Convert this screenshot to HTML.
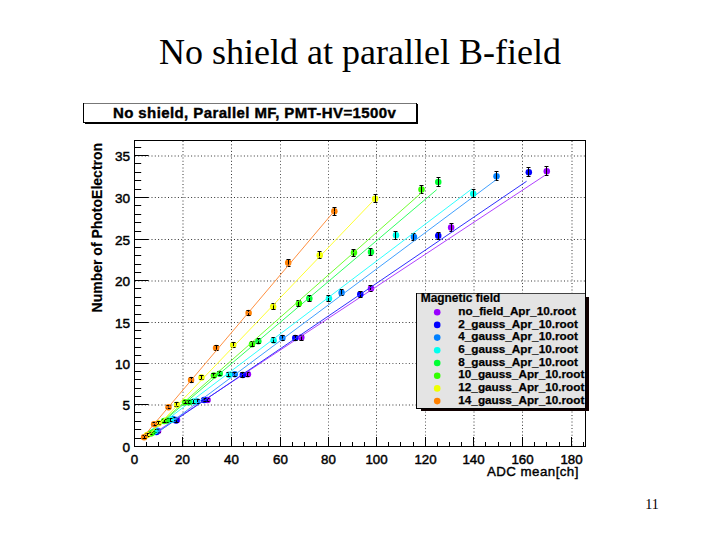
<!DOCTYPE html>
<html><head><meta charset="utf-8"><style>
html,body{margin:0;padding:0;background:#fff;width:720px;height:540px;overflow:hidden}
svg{display:block}
</style></head><body>
<svg width="720" height="540" viewBox="0 0 720 540">
<text x="360" y="64.2" text-anchor="middle" font-family="Liberation Serif, serif" font-size="36" fill="#000">No shield at parallel B-field</text>
<text x="652" y="508.6" text-anchor="middle" font-family="Liberation Serif, serif" font-size="14" fill="#000">11</text>
<rect x="85" y="104" width="333" height="20" fill="#000"/>
<rect x="83.5" y="103.5" width="333" height="19" fill="#fff" stroke="#000" stroke-width="1"/>
<path d="M84 103.5H416" stroke="#777" stroke-width="1"/>
<text x="113" y="117.8" font-family="Liberation Sans, sans-serif" font-size="15" font-weight="bold" letter-spacing="0.4" fill="#000" stroke="#000" stroke-width="0.4">No shield, Parallel MF, PMT-HV=1500v</text>
<path d="M183 141V446" stroke="#9a9a9a" stroke-width="2" stroke-dasharray="1 2.3" fill="none"/>
<path d="M231.5 141V446" stroke="#333" stroke-width="1" stroke-dasharray="1 2.3" fill="none"/>
<path d="M280.5 141V446" stroke="#555" stroke-width="1" stroke-dasharray="1 2.3" fill="none"/>
<path d="M328.5 141V446" stroke="#555" stroke-width="1" stroke-dasharray="1 2.3" fill="none"/>
<path d="M376.5 141V446" stroke="#333" stroke-width="1" stroke-dasharray="1 2.3" fill="none"/>
<path d="M425.5 141V446" stroke="#555" stroke-width="1" stroke-dasharray="1 2.3" fill="none"/>
<path d="M474 141V446" stroke="#9a9a9a" stroke-width="2" stroke-dasharray="1 2.3" fill="none"/>
<path d="M522.5 141V446" stroke="#333" stroke-width="1" stroke-dasharray="1 2.3" fill="none"/>
<path d="M572 141V446" stroke="#9a9a9a" stroke-width="2" stroke-dasharray="1 2.3" fill="none"/>
<path d="M135 405H585" stroke="#9a9a9a" stroke-width="2" stroke-dasharray="1 2.3" fill="none"/>
<path d="M135 363.5H585" stroke="#555" stroke-width="1" stroke-dasharray="1 2.3" fill="none"/>
<path d="M135 322.5H585" stroke="#333" stroke-width="1" stroke-dasharray="1 2.3" fill="none"/>
<path d="M135 281H585" stroke="#9a9a9a" stroke-width="2" stroke-dasharray="1 2.3" fill="none"/>
<path d="M135 239.5H585" stroke="#333" stroke-width="1" stroke-dasharray="1 2.3" fill="none"/>
<path d="M135 197.5H585" stroke="#333" stroke-width="1" stroke-dasharray="1 2.3" fill="none"/>
<path d="M135 156H585" stroke="#9a9a9a" stroke-width="2" stroke-dasharray="1 2.3" fill="none"/>
<circle cx="158.05" cy="431.12" r="3.25" fill="#9900ff"/>
<path d="M158.5 429.5V432.5M156.5 429.5h4M156.5 432.5h4" stroke="#000" stroke-width="1" fill="none"/>
<circle cx="176.99" cy="419.98" r="3.25" fill="#9900ff"/>
<path d="M176.5 418.5V421.5M174.5 418.5h4M174.5 421.5h4" stroke="#000" stroke-width="1" fill="none"/>
<circle cx="207.58" cy="400.02" r="3.25" fill="#9900ff"/>
<path d="M207.5 398.5V401.5M205.5 398.5h4M205.5 401.5h4" stroke="#000" stroke-width="1" fill="none"/>
<circle cx="247.89" cy="374.17" r="3.25" fill="#9900ff"/>
<path d="M247.5 372.5V376.5M245.5 372.5h4M245.5 376.5h4" stroke="#000" stroke-width="1" fill="none"/>
<circle cx="301.30" cy="337.59" r="3.25" fill="#9900ff"/>
<path d="M301.5 335.5V340.5M299.5 335.5h4M299.5 340.5h4" stroke="#000" stroke-width="1" fill="none"/>
<circle cx="370.99" cy="288.53" r="3.25" fill="#9900ff"/>
<path d="M370.5 285.5V291.5M368.5 285.5h4M368.5 291.5h4" stroke="#000" stroke-width="1" fill="none"/>
<circle cx="451.11" cy="227.43" r="3.25" fill="#9900ff"/>
<path d="M451.5 223.5V231.5M449.5 223.5h4M449.5 231.5h4" stroke="#000" stroke-width="1" fill="none"/>
<circle cx="546.77" cy="171.31" r="3.25" fill="#9900ff"/>
<path d="M546.5 166.5V175.5M544.5 166.5h4M544.5 175.5h4" stroke="#000" stroke-width="1" fill="none"/>
<line x1="158.05" y1="430.69" x2="545.0" y2="175.3" stroke="#b040ff" stroke-width="1"/>
<circle cx="156.35" cy="431.95" r="3.25" fill="#0000ff"/>
<path d="M156.5 430.5V433.5M154.5 430.5h4M154.5 433.5h4" stroke="#000" stroke-width="1" fill="none"/>
<circle cx="176.02" cy="420.56" r="3.25" fill="#0000ff"/>
<path d="M176.5 418.5V422.5M174.5 418.5h4M174.5 422.5h4" stroke="#000" stroke-width="1" fill="none"/>
<circle cx="204.18" cy="400.02" r="3.25" fill="#0000ff"/>
<path d="M204.5 398.5V401.5M202.5 398.5h4M202.5 401.5h4" stroke="#000" stroke-width="1" fill="none"/>
<circle cx="242.79" cy="375.00" r="3.25" fill="#0000ff"/>
<path d="M242.5 372.5V377.5M240.5 372.5h4M240.5 377.5h4" stroke="#000" stroke-width="1" fill="none"/>
<circle cx="295.23" cy="337.92" r="3.25" fill="#0000ff"/>
<path d="M295.5 335.5V340.5M293.5 335.5h4M293.5 340.5h4" stroke="#000" stroke-width="1" fill="none"/>
<circle cx="360.30" cy="294.35" r="3.25" fill="#0000ff"/>
<path d="M360.5 291.5V297.5M358.5 291.5h4M358.5 297.5h4" stroke="#000" stroke-width="1" fill="none"/>
<circle cx="438.24" cy="235.74" r="3.25" fill="#0000ff"/>
<path d="M438.5 232.5V239.5M436.5 232.5h4M436.5 239.5h4" stroke="#000" stroke-width="1" fill="none"/>
<circle cx="528.81" cy="172.14" r="3.25" fill="#0000ff"/>
<path d="M528.5 167.5V176.5M526.5 167.5h4M526.5 176.5h4" stroke="#000" stroke-width="1" fill="none"/>
<line x1="156.35" y1="433.02" x2="526.6" y2="181.25" stroke="#3030ff" stroke-width="1"/>
<circle cx="156.59" cy="430.70" r="3.25" fill="#0080ff"/>
<path d="M156.5 429.5V432.5M154.5 429.5h4M154.5 432.5h4" stroke="#000" stroke-width="1" fill="none"/>
<circle cx="173.11" cy="419.06" r="3.25" fill="#0080ff"/>
<path d="M173.5 417.5V420.5M171.5 417.5h4M171.5 420.5h4" stroke="#000" stroke-width="1" fill="none"/>
<circle cx="197.14" cy="401.44" r="3.25" fill="#0080ff"/>
<path d="M197.5 399.5V403.5M195.5 399.5h4M195.5 403.5h4" stroke="#000" stroke-width="1" fill="none"/>
<circle cx="234.78" cy="374.17" r="3.25" fill="#0080ff"/>
<path d="M234.5 372.5V376.5M232.5 372.5h4M232.5 376.5h4" stroke="#000" stroke-width="1" fill="none"/>
<circle cx="282.37" cy="337.92" r="3.25" fill="#0080ff"/>
<path d="M282.5 335.5V340.5M280.5 335.5h4M280.5 340.5h4" stroke="#000" stroke-width="1" fill="none"/>
<circle cx="341.61" cy="292.69" r="3.25" fill="#0080ff"/>
<path d="M341.5 289.5V295.5M339.5 289.5h4M339.5 295.5h4" stroke="#000" stroke-width="1" fill="none"/>
<circle cx="413.96" cy="236.99" r="3.25" fill="#0080ff"/>
<path d="M413.5 233.5V240.5M411.5 233.5h4M411.5 240.5h4" stroke="#000" stroke-width="1" fill="none"/>
<circle cx="496.51" cy="176.30" r="3.25" fill="#0080ff"/>
<path d="M496.5 171.5V180.5M494.5 171.5h4M494.5 180.5h4" stroke="#000" stroke-width="1" fill="none"/>
<line x1="156.59" y1="433.05" x2="495.8" y2="180.0" stroke="#40a0ff" stroke-width="1"/>
<circle cx="154.41" cy="431.29" r="3.25" fill="#00ffee"/>
<path d="M154.5 429.5V432.5M152.5 429.5h4M152.5 432.5h4" stroke="#000" stroke-width="1" fill="none"/>
<circle cx="170.80" cy="419.81" r="3.25" fill="#00ffee"/>
<path d="M170.5 418.5V421.5M168.5 418.5h4M168.5 421.5h4" stroke="#000" stroke-width="1" fill="none"/>
<circle cx="193.74" cy="401.44" r="3.25" fill="#00ffee"/>
<path d="M193.5 399.5V403.5M191.5 399.5h4M191.5 403.5h4" stroke="#000" stroke-width="1" fill="none"/>
<circle cx="228.95" cy="374.67" r="3.25" fill="#00ffee"/>
<path d="M228.5 372.5V376.5M226.5 372.5h4M226.5 376.5h4" stroke="#000" stroke-width="1" fill="none"/>
<circle cx="273.62" cy="340.41" r="3.25" fill="#00ffee"/>
<path d="M273.5 337.5V342.5M271.5 337.5h4M271.5 342.5h4" stroke="#000" stroke-width="1" fill="none"/>
<circle cx="328.98" cy="298.51" r="3.25" fill="#00ffee"/>
<path d="M328.5 295.5V301.5M326.5 295.5h4M326.5 301.5h4" stroke="#000" stroke-width="1" fill="none"/>
<circle cx="396.00" cy="235.32" r="3.25" fill="#00ffee"/>
<path d="M395.5 231.5V239.5M393.5 231.5h4M393.5 239.5h4" stroke="#000" stroke-width="1" fill="none"/>
<circle cx="473.21" cy="193.75" r="3.25" fill="#00ffee"/>
<path d="M473.5 189.5V197.5M471.5 189.5h4M471.5 197.5h4" stroke="#000" stroke-width="1" fill="none"/>
<line x1="154.41" y1="429.19" x2="471.7" y2="189.0" stroke="#30ffff" stroke-width="1"/>
<circle cx="152.47" cy="432.53" r="3.25" fill="#00ff33"/>
<path d="M152.5 431.5V433.5M150.5 431.5h4M150.5 433.5h4" stroke="#000" stroke-width="1" fill="none"/>
<circle cx="166.79" cy="420.56" r="3.25" fill="#00ff33"/>
<path d="M166.5 418.5V422.5M164.5 418.5h4M164.5 422.5h4" stroke="#000" stroke-width="1" fill="none"/>
<circle cx="188.89" cy="402.19" r="3.25" fill="#00ff33"/>
<path d="M188.5 400.5V403.5M186.5 400.5h4M186.5 403.5h4" stroke="#000" stroke-width="1" fill="none"/>
<circle cx="219.72" cy="373.75" r="3.25" fill="#00ff33"/>
<path d="M219.5 371.5V375.5M217.5 371.5h4M217.5 375.5h4" stroke="#000" stroke-width="1" fill="none"/>
<circle cx="258.33" cy="341.24" r="3.25" fill="#00ff33"/>
<path d="M258.5 338.5V343.5M256.5 338.5h4M256.5 343.5h4" stroke="#000" stroke-width="1" fill="none"/>
<circle cx="309.32" cy="298.51" r="3.25" fill="#00ff33"/>
<path d="M309.5 295.5V301.5M307.5 295.5h4M307.5 301.5h4" stroke="#000" stroke-width="1" fill="none"/>
<circle cx="370.99" cy="251.95" r="3.25" fill="#00ff33"/>
<path d="M370.5 248.5V255.5M368.5 248.5h4M368.5 255.5h4" stroke="#000" stroke-width="1" fill="none"/>
<circle cx="438.24" cy="182.11" r="3.25" fill="#00ff33"/>
<path d="M438.5 177.5V186.5M436.5 177.5h4M436.5 186.5h4" stroke="#000" stroke-width="1" fill="none"/>
<line x1="152.47" y1="430.59" x2="436.7" y2="189.7" stroke="#30ff60" stroke-width="1"/>
<circle cx="150.77" cy="433.53" r="3.25" fill="#33ff00"/>
<path d="M150.5 432.5V434.5M148.5 432.5h4M148.5 434.5h4" stroke="#000" stroke-width="1" fill="none"/>
<circle cx="164.12" cy="420.89" r="3.25" fill="#33ff00"/>
<path d="M164.5 419.5V422.5M162.5 419.5h4M162.5 422.5h4" stroke="#000" stroke-width="1" fill="none"/>
<circle cx="185.00" cy="402.19" r="3.25" fill="#33ff00"/>
<path d="M185.5 400.5V403.5M183.5 400.5h4M183.5 403.5h4" stroke="#000" stroke-width="1" fill="none"/>
<circle cx="213.90" cy="375.50" r="3.25" fill="#33ff00"/>
<path d="M213.5 373.5V377.5M211.5 373.5h4M211.5 377.5h4" stroke="#000" stroke-width="1" fill="none"/>
<circle cx="252.02" cy="344.24" r="3.25" fill="#33ff00"/>
<path d="M252.5 341.5V346.5M250.5 341.5h4M250.5 346.5h4" stroke="#000" stroke-width="1" fill="none"/>
<circle cx="298.88" cy="303.50" r="3.25" fill="#33ff00"/>
<path d="M298.5 300.5V306.5M296.5 300.5h4M296.5 306.5h4" stroke="#000" stroke-width="1" fill="none"/>
<circle cx="353.99" cy="252.78" r="3.25" fill="#33ff00"/>
<path d="M353.5 249.5V256.5M351.5 249.5h4M351.5 256.5h4" stroke="#000" stroke-width="1" fill="none"/>
<circle cx="421.49" cy="189.60" r="3.25" fill="#33ff00"/>
<path d="M421.5 185.5V193.5M419.5 185.5h4M419.5 193.5h4" stroke="#000" stroke-width="1" fill="none"/>
<line x1="150.77" y1="431.57" x2="420.8" y2="193.4" stroke="#70ff30" stroke-width="1"/>
<circle cx="147.13" cy="435.03" r="3.25" fill="#eeff00"/>
<path d="M147.5 433.5V436.5M145.5 433.5h4M145.5 436.5h4" stroke="#000" stroke-width="1" fill="none"/>
<circle cx="158.54" cy="423.14" r="3.25" fill="#eeff00"/>
<path d="M158.5 421.5V424.5M156.5 421.5h4M156.5 424.5h4" stroke="#000" stroke-width="1" fill="none"/>
<circle cx="176.99" cy="404.76" r="3.25" fill="#eeff00"/>
<path d="M176.5 402.5V406.5M174.5 402.5h4M174.5 406.5h4" stroke="#000" stroke-width="1" fill="none"/>
<circle cx="201.51" cy="377.49" r="3.25" fill="#eeff00"/>
<path d="M201.5 375.5V379.5M199.5 375.5h4M199.5 379.5h4" stroke="#000" stroke-width="1" fill="none"/>
<circle cx="233.20" cy="345.07" r="3.25" fill="#eeff00"/>
<path d="M233.5 342.5V347.5M231.5 342.5h4M231.5 347.5h4" stroke="#000" stroke-width="1" fill="none"/>
<circle cx="273.14" cy="306.82" r="3.25" fill="#eeff00"/>
<path d="M273.5 303.5V309.5M271.5 303.5h4M271.5 309.5h4" stroke="#000" stroke-width="1" fill="none"/>
<circle cx="319.76" cy="255.28" r="3.25" fill="#eeff00"/>
<path d="M319.5 251.5V258.5M317.5 251.5h4M317.5 258.5h4" stroke="#000" stroke-width="1" fill="none"/>
<circle cx="375.11" cy="198.74" r="3.25" fill="#eeff00"/>
<path d="M375.5 194.5V202.5M373.5 194.5h4M373.5 202.5h4" stroke="#000" stroke-width="1" fill="none"/>
<line x1="147.13" y1="436.79" x2="372.5" y2="201.5" stroke="#ffff30" stroke-width="1"/>
<circle cx="144.09" cy="437.19" r="3.25" fill="#ff8000"/>
<path d="M144.5 435.5V438.5M142.5 435.5h4M142.5 438.5h4" stroke="#000" stroke-width="1" fill="none"/>
<circle cx="154.09" cy="424.30" r="3.25" fill="#ff8000"/>
<path d="M154.5 422.5V425.5M152.5 422.5h4M152.5 425.5h4" stroke="#000" stroke-width="1" fill="none"/>
<circle cx="168.49" cy="407.17" r="3.25" fill="#ff8000"/>
<path d="M168.5 405.5V408.5M166.5 405.5h4M166.5 408.5h4" stroke="#000" stroke-width="1" fill="none"/>
<circle cx="191.07" cy="379.99" r="3.25" fill="#ff8000"/>
<path d="M191.5 377.5V382.5M189.5 377.5h4M189.5 382.5h4" stroke="#000" stroke-width="1" fill="none"/>
<circle cx="216.08" cy="347.98" r="3.25" fill="#ff8000"/>
<path d="M216.5 345.5V350.5M214.5 345.5h4M214.5 350.5h4" stroke="#000" stroke-width="1" fill="none"/>
<circle cx="248.62" cy="312.89" r="3.25" fill="#ff8000"/>
<path d="M248.5 310.5V315.5M246.5 310.5h4M246.5 315.5h4" stroke="#000" stroke-width="1" fill="none"/>
<circle cx="288.19" cy="262.76" r="3.25" fill="#ff8000"/>
<path d="M288.5 259.5V266.5M286.5 259.5h4M286.5 266.5h4" stroke="#000" stroke-width="1" fill="none"/>
<circle cx="334.32" cy="211.21" r="3.25" fill="#ff8000"/>
<path d="M334.5 207.5V215.5M332.5 207.5h4M332.5 215.5h4" stroke="#000" stroke-width="1" fill="none"/>
<line x1="144.09" y1="435.91" x2="334.2" y2="211.2" stroke="#ff9040" stroke-width="1"/>
<rect x="134.5" y="140.5" width="451" height="306" fill="none" stroke="#000" stroke-width="1"/>
<path d="M135 446.5h13.6 M135 438.5h6.2 M135 429.5h6.2 M135 421.5h6.2 M135 412.5h6.2 M135 404.5h13.6 M135 396.5h6.2 M135 388.5h6.2 M135 379.5h6.2 M135 371.5h6.2 M135 363.5h13.6 M135 355.5h6.2 M135 347.5h6.2 M135 338.5h6.2 M135 330.5h6.2 M135 322.5h13.6 M135 314.5h6.2 M135 305.5h6.2 M135 297.5h6.2 M135 288.5h6.2 M135 280.5h13.6 M135 272.5h6.2 M135 264.5h6.2 M135 255.5h6.2 M135 247.5h6.2 M135 239.5h13.6 M135 231.5h6.2 M135 222.5h6.2 M135 214.5h6.2 M135 205.5h6.2 M135 197.5h13.6 M135 189.5h6.2 M135 180.5h6.2 M135 172.5h6.2 M135 163.5h6.2 M135 155.5h13.6 M135 147.5h6.2 M134.5 446v-9 M146.5 446v-4 M158.5 446v-4 M170.5 446v-4 M182.5 446v-9 M194.5 446v-4 M206.5 446v-4 M219.5 446v-4 M231.5 446v-9 M243.5 446v-4 M256.5 446v-4 M268.5 446v-4 M280.5 446v-9 M292.5 446v-4 M304.5 446v-4 M316.5 446v-4 M328.5 446v-9 M340.5 446v-4 M352.5 446v-4 M364.5 446v-4 M376.5 446v-9 M388.5 446v-4 M400.5 446v-4 M413.5 446v-4 M425.5 446v-9 M437.5 446v-4 M449.5 446v-4 M461.5 446v-4 M473.5 446v-9 M485.5 446v-4 M498.5 446v-4 M510.5 446v-4 M522.5 446v-9 M534.5 446v-4 M546.5 446v-4 M559.5 446v-4 M571.5 446v-9 M583.5 446v-4" stroke="#000" stroke-width="1" fill="none"/>
<text x="130" y="451.7" text-anchor="end" font-family="Liberation Sans, sans-serif" font-size="13.6" fill="#000" stroke="#000" stroke-width="0.45">0</text>
<text x="130" y="409.7" text-anchor="end" font-family="Liberation Sans, sans-serif" font-size="13.6" fill="#000" stroke="#000" stroke-width="0.45">5</text>
<text x="130" y="368.7" text-anchor="end" font-family="Liberation Sans, sans-serif" font-size="13.6" fill="#000" stroke="#000" stroke-width="0.45">10</text>
<text x="130" y="327.7" text-anchor="end" font-family="Liberation Sans, sans-serif" font-size="13.6" fill="#000" stroke="#000" stroke-width="0.45">15</text>
<text x="130" y="285.7" text-anchor="end" font-family="Liberation Sans, sans-serif" font-size="13.6" fill="#000" stroke="#000" stroke-width="0.45">20</text>
<text x="130" y="244.7" text-anchor="end" font-family="Liberation Sans, sans-serif" font-size="13.6" fill="#000" stroke="#000" stroke-width="0.45">25</text>
<text x="130" y="202.7" text-anchor="end" font-family="Liberation Sans, sans-serif" font-size="13.6" fill="#000" stroke="#000" stroke-width="0.45">30</text>
<text x="130" y="160.7" text-anchor="end" font-family="Liberation Sans, sans-serif" font-size="13.6" fill="#000" stroke="#000" stroke-width="0.45">35</text>
<text x="134.5" y="464.1" text-anchor="middle" font-family="Liberation Sans, sans-serif" font-size="13.3" fill="#000" stroke="#000" stroke-width="0.45">0</text>
<text x="182.5" y="464.1" text-anchor="middle" font-family="Liberation Sans, sans-serif" font-size="13.3" fill="#000" stroke="#000" stroke-width="0.45">20</text>
<text x="231.5" y="464.1" text-anchor="middle" font-family="Liberation Sans, sans-serif" font-size="13.3" fill="#000" stroke="#000" stroke-width="0.45">40</text>
<text x="280.5" y="464.1" text-anchor="middle" font-family="Liberation Sans, sans-serif" font-size="13.3" fill="#000" stroke="#000" stroke-width="0.45">60</text>
<text x="328.5" y="464.1" text-anchor="middle" font-family="Liberation Sans, sans-serif" font-size="13.3" fill="#000" stroke="#000" stroke-width="0.45">80</text>
<text x="376.5" y="464.1" text-anchor="middle" font-family="Liberation Sans, sans-serif" font-size="13.3" fill="#000" stroke="#000" stroke-width="0.45">100</text>
<text x="425.5" y="464.1" text-anchor="middle" font-family="Liberation Sans, sans-serif" font-size="13.3" fill="#000" stroke="#000" stroke-width="0.45">120</text>
<text x="473.5" y="464.1" text-anchor="middle" font-family="Liberation Sans, sans-serif" font-size="13.3" fill="#000" stroke="#000" stroke-width="0.45">140</text>
<text x="522.5" y="464.1" text-anchor="middle" font-family="Liberation Sans, sans-serif" font-size="13.3" fill="#000" stroke="#000" stroke-width="0.45">160</text>
<text x="571.5" y="464.1" text-anchor="middle" font-family="Liberation Sans, sans-serif" font-size="13.3" fill="#000" stroke="#000" stroke-width="0.45">180</text>
<text x="487" y="475.8" font-family="Liberation Sans, sans-serif" font-size="13.3" letter-spacing="0.45" fill="#000" stroke="#000" stroke-width="0.4">ADC mean[ch]</text>
<text transform="translate(101.9,142.9) rotate(-90)" text-anchor="end" font-family="Liberation Sans, sans-serif" font-size="14" font-weight="bold" fill="#000" stroke="#000" stroke-width="0.2">Number of PhotoElectron</text>
<rect x="586" y="297" width="3" height="114" fill="#100000"/>
<rect x="421" y="409" width="168" height="2" fill="#100000"/>
<rect x="416.5" y="293.5" width="169" height="115" fill="#e4e4e4" stroke="#000" stroke-width="1"/>
<path d="M417 293.5H585" stroke="#444" stroke-width="1"/>
<text x="420.7" y="301.9" font-family="Liberation Sans, sans-serif" font-size="11.95" font-weight="bold" fill="#000" stroke="#000" stroke-width="0.2">Magnetic field</text>
<circle cx="437.2" cy="312.20" r="3.3" fill="#9900ff"/>
<text x="458.3" y="315.00" font-family="Liberation Sans, sans-serif" font-size="11.75" font-weight="bold" fill="#000" stroke="#000" stroke-width="0.25">no_field_Apr_10.root</text>
<circle cx="437.2" cy="324.90" r="3.3" fill="#0000ff"/>
<text x="458.3" y="327.65" font-family="Liberation Sans, sans-serif" font-size="11.75" font-weight="bold" fill="#000" stroke="#000" stroke-width="0.25">2_gauss_Apr_10.root</text>
<circle cx="437.2" cy="337.60" r="3.3" fill="#0080ff"/>
<text x="458.3" y="340.30" font-family="Liberation Sans, sans-serif" font-size="11.75" font-weight="bold" fill="#000" stroke="#000" stroke-width="0.25">4_gauss_Apr_10.root</text>
<circle cx="437.2" cy="350.30" r="3.3" fill="#00ffee"/>
<text x="458.3" y="352.95" font-family="Liberation Sans, sans-serif" font-size="11.75" font-weight="bold" fill="#000" stroke="#000" stroke-width="0.25">6_gauss_Apr_10.root</text>
<circle cx="437.2" cy="363.00" r="3.3" fill="#00ff33"/>
<text x="458.3" y="365.60" font-family="Liberation Sans, sans-serif" font-size="11.75" font-weight="bold" fill="#000" stroke="#000" stroke-width="0.25">8_gauss_Apr_10.root</text>
<circle cx="437.2" cy="375.70" r="3.3" fill="#33ff00"/>
<text x="458.3" y="378.25" font-family="Liberation Sans, sans-serif" font-size="11.75" font-weight="bold" fill="#000" stroke="#000" stroke-width="0.25">10_gauss_Apr_10.root</text>
<circle cx="437.2" cy="388.40" r="3.3" fill="#eeff00"/>
<text x="458.3" y="390.90" font-family="Liberation Sans, sans-serif" font-size="11.75" font-weight="bold" fill="#000" stroke="#000" stroke-width="0.25">12_gauss_Apr_10.root</text>
<circle cx="437.2" cy="401.10" r="3.3" fill="#ff8000"/>
<text x="458.3" y="403.55" font-family="Liberation Sans, sans-serif" font-size="11.75" font-weight="bold" fill="#000" stroke="#000" stroke-width="0.25">14_gauss_Apr_10.root</text>
</svg>
</body></html>
